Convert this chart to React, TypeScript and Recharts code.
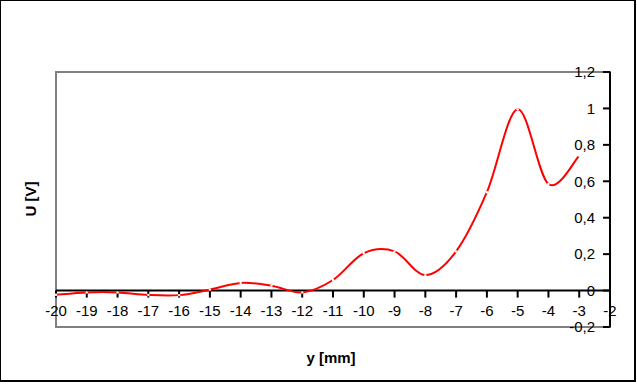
import { LineChart, Line, XAxis, YAxis, ReferenceLine, ReferenceArea } from "recharts";

// positions along y [mm] and measured voltage U [V]
const positions = [-20, -19, -18, -17, -16, -15, -14, -13, -12, -11, -10, -9, -8, -7, -6, -5, -4, -3];
const voltages = [
  -0.023, -0.01, -0.01, -0.024, -0.025, 0.005, 0.042, 0.027, -0.01, 0.058, 0.205, 0.215, 0.085, 0.215,
  0.54, 0.995, 0.585, 0.74,
];

const xTicks = [-20, -19, -18, -17, -16, -15, -14, -13, -12, -11, -10, -9, -8, -7, -6, -5, -4, -3, -2];
const yTicks = [-0.2, 0, 0.2, 0.4, 0.6, 0.8, 1, 1.2];

const data = positions.map((x, i) => ({ x, u: voltages[i] }));

const FONT = '"Liberation Sans", Arial, sans-serif';
// tick marks hanging below the zero line, in U units
const TICK_DEPTH = 0.0386;

// Excel-like smoothed line (Catmull-Rom through the points)
const catmullRom = (context: any) => {
  let pts: [number, number][] = [];
  return {
    areaStart() {},
    areaEnd() {},
    lineStart() {
      pts = [];
    },
    point(x: number, y: number) {
      pts.push([+x, +y]);
    },
    lineEnd() {
      if (!pts.length) return;
      context.moveTo(pts[0][0], pts[0][1]);
      for (let i = 0; i < pts.length - 1; i++) {
        const p0 = pts[i - 1] || pts[i];
        const p1 = pts[i];
        const p2 = pts[i + 1];
        const p3 = pts[i + 2] || p2;
        context.bezierCurveTo(
          p1[0] + (p2[0] - p0[0]) / 6,
          p1[1] + (p2[1] - p0[1]) / 6,
          p2[0] - (p3[0] - p1[0]) / 6,
          p2[1] - (p3[1] - p1[1]) / 6,
          p2[0],
          p2[1]
        );
      }
    },
  };
};

export default function App() {
  return (
    <div style={{ position: "absolute", left: 0, top: 0, width: 637, height: 384, background: "#fff", fontFamily: FONT }}>
      <div
        style={{
          position: "absolute",
          left: 0,
          top: 0,
          width: 636,
          height: 382,
          boxSizing: "border-box",
          borderLeft: "1px solid #000",
          borderTop: "1px solid #000",
          borderRight: "2px solid #000",
          borderBottom: "2px solid #000",
        }}
      />
      <div style={{ position: "absolute", left: 0, top: 0 }}>
        <LineChart width={636} height={383} data={data} margin={{ top: 72, right: 26, bottom: 56, left: 56 }}>
          <ReferenceArea
            x1={-20}
            x2={-2}
            y1={-0.2}
            y2={1.2}
            fill="none"
            stroke="#808080"
            strokeWidth={2}
          />
          <XAxis
            dataKey="x"
            type="number"
            domain={[-20, -2]}
            ticks={xTicks}
            interval={0}
            mirror
            axisLine={false}
            tickLine={false}
            tickMargin={5}
            tick={{ fill: "#000", fontSize: 15, fontFamily: FONT }}
          />
          <YAxis
            type="number"
            domain={[-0.2, 1.2]}
            ticks={yTicks}
            interval={0}
            orientation="right"
            mirror
            width={40}
            axisLine={{ stroke: "#000", strokeWidth: 2 }}
            tickLine={{ stroke: "#000", strokeWidth: 2 }}
            tickSize={7}
            tickMargin={8}
            tick={{ fill: "#000", fontSize: 15, fontFamily: FONT }}
            tickFormatter={(v: number) => String(v).replace(".", ",")}
          />
          <ReferenceLine y={0} stroke="#000" strokeWidth={2} />
          {xTicks.map((v) => (
            <ReferenceLine
              key={v}
              segment={[
                { x: v, y: 0 },
                { x: v, y: -TICK_DEPTH },
              ]}
              stroke="#000"
              strokeWidth={2}
            />
          ))}
          <Line
            dataKey="u"
            type={catmullRom as any}
            stroke="#ff0000"
            strokeWidth={2}
            dot={{ r: 1.2, fill: "#fff", stroke: "none" }}
            activeDot={false}
            isAnimationActive={false}
          />
        </LineChart>
      </div>
      <div
        style={{
          position: "absolute",
          left: 30,
          top: 199,
          transform: "translate(-50%, -50%) rotate(-90deg)",
          fontSize: 15,
          fontWeight: "bold",
          whiteSpace: "nowrap",
        }}
      >
        U [V]
      </div>
      <div
        style={{
          position: "absolute",
          left: 331,
          top: 357,
          transform: "translate(-50%, -50%)",
          fontSize: 15,
          fontWeight: "bold",
          whiteSpace: "nowrap",
        }}
      >
        y [mm]
      </div>
    </div>
  );
}
